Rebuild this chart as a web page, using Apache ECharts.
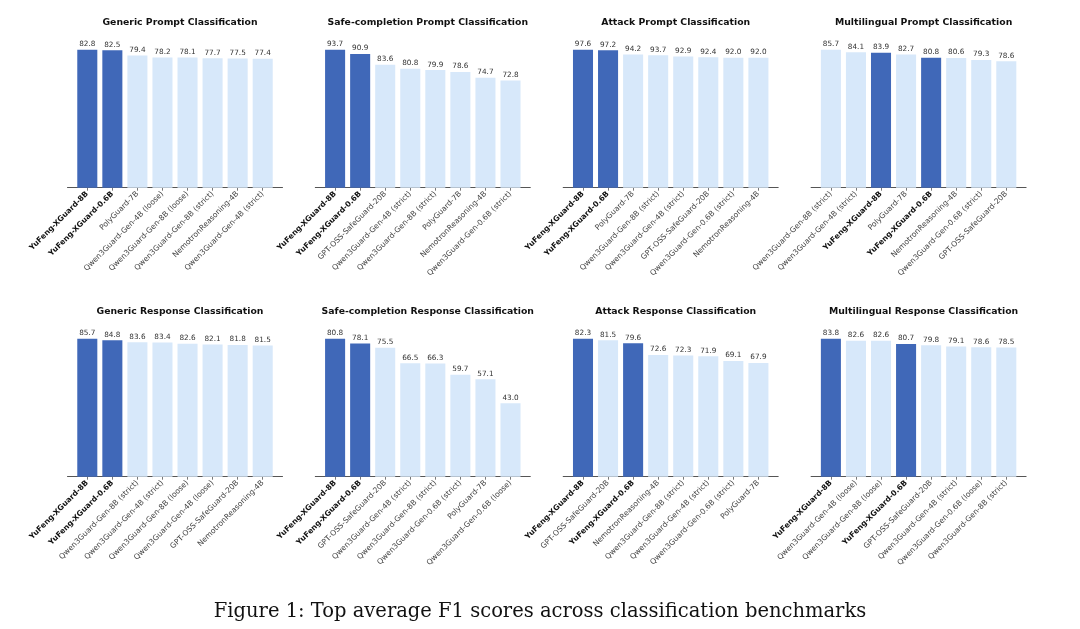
<!DOCTYPE html>
<html>
<head>
<meta charset="utf-8">
<script src="https://cdn.jsdelivr.net/npm/echarts@6/dist/echarts.min.js"></script>
<style>
html,body{margin:0;padding:0;background:#fff;}
#c{width:1080px;height:629px;}
</style>
</head>
<body>
<div id="c"></div>
<script>
// ---- Data ----
const titles = [
  "Generic Prompt Classification",
  "Safe-completion Prompt Classification",
  "Attack Prompt Classification",
  "Multilingual Prompt Classification",
  "Generic Response Classification",
  "Safe-completion Response Classification",
  "Attack Response Classification",
  "Multilingual Response Classification"
];
const names1 = ["YuFeng-XGuard-8B","YuFeng-XGuard-0.6B","PolyGuard-7B","Qwen3Guard-Gen-4B (loose)","Qwen3Guard-Gen-8B (loose)","Qwen3Guard-Gen-8B (strict)","NemotronReasoning-4B","Qwen3Guard-Gen-4B (strict)"];
const vals1 = [82.8,82.5,79.4,78.2,78.1,77.7,77.5,77.4];
const names2 = ["YuFeng-XGuard-8B","YuFeng-XGuard-0.6B","GPT-OSS-SafeGuard-20B","Qwen3Guard-Gen-4B (strict)","Qwen3Guard-Gen-8B (strict)","PolyGuard-7B","NemotronReasoning-4B","Qwen3Guard-Gen-0.6B (strict)"];
const vals2 = [93.7,90.9,83.6,80.8,79.9,78.6,74.7,72.8];
const names3 = ["YuFeng-XGuard-8B","YuFeng-XGuard-0.6B","PolyGuard-7B","Qwen3Guard-Gen-8B (strict)","Qwen3Guard-Gen-4B (strict)","GPT-OSS-SafeGuard-20B","Qwen3Guard-Gen-0.6B (strict)","NemotronReasoning-4B"];
const vals3 = [97.6,97.2,94.2,93.7,92.9,92.4,92.0,92.0];
const names4 = ["Qwen3Guard-Gen-8B (strict)","Qwen3Guard-Gen-4B (strict)","YuFeng-XGuard-8B","PolyGuard-7B","YuFeng-XGuard-0.6B","NemotronReasoning-4B","Qwen3Guard-Gen-0.6B (strict)","GPT-OSS-SafeGuard-20B"];
const vals4 = [85.7,84.1,83.9,82.7,80.8,80.6,79.3,78.6];
const names5 = ["YuFeng-XGuard-8B","YuFeng-XGuard-0.6B","Qwen3Guard-Gen-8B (strict)","Qwen3Guard-Gen-4B (strict)","Qwen3Guard-Gen-8B (loose)","Qwen3Guard-Gen-4B (loose)","GPT-OSS-SafeGuard-20B","NemotronReasoning-4B"];
const vals5 = [85.7,84.8,83.6,83.4,82.6,82.1,81.8,81.5];
const names6 = ["YuFeng-XGuard-8B","YuFeng-XGuard-0.6B","GPT-OSS-SafeGuard-20B","Qwen3Guard-Gen-4B (strict)","Qwen3Guard-Gen-8B (strict)","Qwen3Guard-Gen-0.6B (strict)","PolyGuard-7B","Qwen3Guard-Gen-0.6B (loose)"];
const vals6 = [80.8,78.1,75.5,66.5,66.3,59.7,57.1,43.0];
const names7 = ["YuFeng-XGuard-8B","GPT-OSS-SafeGuard-20B","YuFeng-XGuard-0.6B","NemotronReasoning-4B","Qwen3Guard-Gen-8B (strict)","Qwen3Guard-Gen-4B (strict)","Qwen3Guard-Gen-0.6B (strict)","PolyGuard-7B"];
const vals7 = [82.3,81.5,79.6,72.6,72.3,71.9,69.1,67.9];
const names8 = ["YuFeng-XGuard-8B","Qwen3Guard-Gen-4B (loose)","Qwen3Guard-Gen-8B (loose)","YuFeng-XGuard-0.6B","GPT-OSS-SafeGuard-20B","Qwen3Guard-Gen-4B (strict)","Qwen3Guard-Gen-0.6B (loose)","Qwen3Guard-Gen-8B (strict)"];
const vals8 = [83.8,82.6,82.6,80.7,79.8,79.1,78.6,78.5];
const caption = "Figure 1: Top average F1 scores across classification benchmarks";

const panelNames = [names1,names2,names3,names4,names5,names6,names7,names8];
const panelVals = [vals1,vals2,vals3,vals4,vals5,vals6,vals7,vals8];

// ---- Layout / style ----
const DARK = "#4068b8", LIGHT = "#d7e8fa";
const colLefts = [67.5, 315.3, 563.2, 811.1];
const gridW = 215;
const rowTops = [36, 325];
const gridH = 151.7;
const titleY = [13, 302];
const xMin = -0.79, xMax = 7.79;
const barW = 0.8 * gridW / (xMax - xMin);
const isOurs = n => n.indexOf("YuFeng") === 0;

const option = {
  animation: false,
  backgroundColor: "#fff",
  title: [], grid: [], xAxis: [], yAxis: [], series: []
};

panelNames.forEach((names, i) => {
  const vals = panelVals[i];
  const r = Math.floor(i / 4), c = i % 4;
  const left = colLefts[c];
  option.grid.push({left: left, top: rowTops[r], width: gridW, height: gridH, containLabel: false});
  option.title.push({
    text: titles[i], left: left + gridW / 2, top: titleY[r], textAlign: "center",
    textStyle: {fontFamily: "DejaVu Sans", fontWeight: "bold", fontSize: 9.3, color: "#111"}
  });
  const idx = names.map((_, k) => k);
  option.xAxis.push({
    type: "value", gridIndex: i, min: xMin, max: xMax,
    splitLine: {show: false},
    axisLine: {show: true, lineStyle: {color: "#555", width: 1}},
    axisTick: {show: true, customValues: idx, length: 3, lineStyle: {color: "#555", width: 0.8}},
    axisLabel: {
      show: true, customValues: idx, rotate: 45, margin: 5,
      fontFamily: "DejaVu Sans", fontSize: 7.6, color: "#444",
      formatter: v => {
        const n = names[Math.round(v)];
        return isOurs(n) ? "{b|" + n + "}" : n;
      },
      rich: {b: {fontFamily: "DejaVu Sans", fontWeight: "bold", fontSize: 7.6, color: "#111"}}
    }
  });
  option.yAxis.push({
    type: "value", gridIndex: i, min: 0, max: v => v.max * 1.1, show: false, splitLine: {show: false}
  });
  option.series.push({
    type: "bar", xAxisIndex: i, yAxisIndex: i, barWidth: barW,
    data: vals.map((v, k) => ({value: [k, v], itemStyle: {color: isOurs(names[k]) ? DARK : LIGHT}})),
    label: {
      show: true, position: "top", distance: 2,
      fontFamily: "DejaVu Sans", fontSize: 7.3, color: "#333",
      formatter: p => p.value[1].toFixed(1)
    }
  });
});

option.title.push({
  text: caption, left: "center", top: 597,
  textStyle: {fontFamily: "DejaVu Serif", fontWeight: "normal", fontSize: 19.5, color: "#111"}
});

const chart = echarts.init(document.getElementById("c"), null, {renderer: "canvas"});
chart.setOption(option);
</script>
</body>
</html>
